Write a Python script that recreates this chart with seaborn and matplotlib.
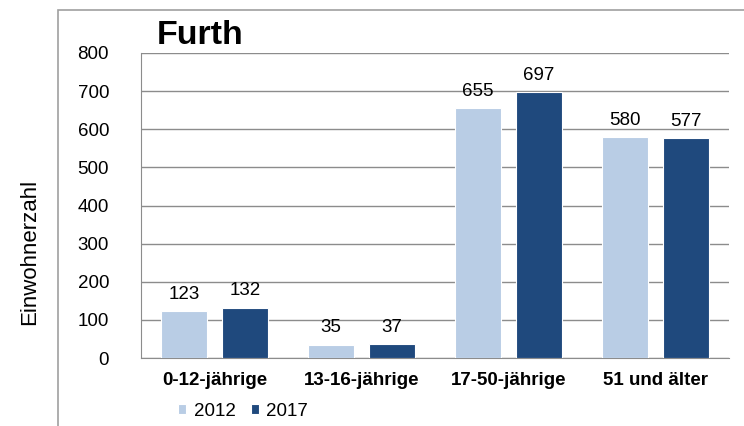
import matplotlib
matplotlib.use('Agg')
import matplotlib.pyplot as plt
import matplotlib.patches as mpatches
import pandas as pd
import seaborn as sns

# data
groups = ['0-12-jährige', '13-16-jährige', '17-50-jährige', '51 und älter']
years = ['2012', '2017']
values_2012 = [123, 35, 655, 580]
values_2017 = [132, 37, 697, 577]
colors = ['#b9cde5', '#1f497d']

df = pd.DataFrame({
    'Gruppe': groups * 2,
    'Jahr': [years[0]] * len(groups) + [years[1]] * len(groups),
    'Einwohner': values_2012 + values_2017,
})

sns.set_style('white')
plt.rcParams['font.family'] = ['Liberation Sans', 'DejaVu Sans']
plt.rcParams['text.color'] = 'black'
plt.rcParams['xtick.color'] = 'black'
plt.rcParams['ytick.color'] = 'black'

fig = plt.figure(figsize=(7.44, 4.26), dpi=100)
ax = fig.add_axes([0.1895, 0.1596, 0.79, 0.716])

# grey frame around the chart (open on the right and bottom like the scan)
fig.patches.append(mpatches.Rectangle((58 / 744, -0.05), 1.0, 1 - 10 / 426 + 0.05,
                                      transform=fig.transFigure, fill=False,
                                      edgecolor='#a0a0a0', linewidth=1.2))

sns.barplot(data=df, x='Gruppe', y='Einwohner', hue='Jahr', palette=colors,
            saturation=1, width=0.83, gap=0.25, ax=ax, zorder=3,
            edgecolor='white', linewidth=0.8)

ax.set_ylim(0, 800)
ax.set_yticks(range(0, 801, 100))
ax.grid(axis='y', color='#8c8c8c', linewidth=1.0, zorder=0)
ax.set_axisbelow(True)
for side in ['top', 'right']:
    ax.spines[side].set_visible(False)
ax.spines['left'].set_color('#8c8c8c')
ax.spines['bottom'].set_color('#8c8c8c')
ax.tick_params(axis='y', labelsize=13.5, pad=23, length=0)
ax.tick_params(axis='x', labelsize=13.5, pad=10, length=0)
for lbl in ax.get_xticklabels():
    lbl.set_fontweight('bold')
ax.set_xlabel('')
ax.set_ylabel('')

fig.text(30 / 744, 1 - 252 / 426, 'Einwohnerzahl', rotation=90,
         ha='center', va='center', fontsize=16)
fig.text(157 / 744, 1 - 36 / 426, 'Furth', fontsize=24.5, fontweight='bold',
         ha='left', va='center')

# value labels above bars
for container in ax.containers:
    ax.bar_label(container, fmt='%d', padding=6, fontsize=13.5)

handles, labels = ax.get_legend_handles_labels()
ax.legend(handles, labels, ncol=2, frameon=False, fontsize=13.5,
          handlelength=0.45, handleheight=0.45, handletextpad=0.4,
          columnspacing=0.8, loc='center', bbox_to_anchor=(243 / 744, 1 - 411 / 426),
          bbox_transform=fig.transFigure)

fig.savefig('out.png', dpi=100)
